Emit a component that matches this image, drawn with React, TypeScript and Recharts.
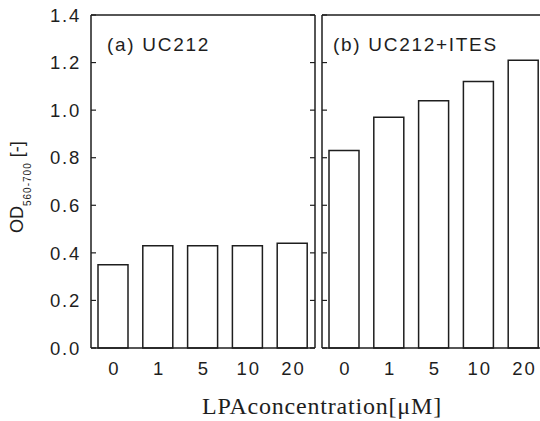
import React from 'react';
import { BarChart, Bar, XAxis, YAxis } from 'recharts';

const concentrations = ['0', '1', '5', '10', '20'];
const odUC212 = [0.35, 0.43, 0.43, 0.43, 0.44];
const odUC212ITES = [0.83, 0.97, 1.04, 1.12, 1.21];
const yTicks = [0, 0.2, 0.4, 0.6, 0.8, 1.0, 1.2, 1.4];
const panelATitle = '(a) UC212';
const panelBTitle = '(b) UC212+ITES';
const xTitle = 'LPAconcentration[μM]';

const dataA = concentrations.map((c, i) => ({ c, v: odUC212[i] }));
const dataB = concentrations.map((c, i) => ({ c, v: odUC212ITES[i] }));

const INK = '#1e1e1e';
const SANS = '"Liberation Sans", Arial, sans-serif';
const SERIF = '"Liberation Serif", "Times New Roman", serif';
const TICK = 5;

const LeftTickLabel = (props: any) => {
  const { x, y, payload } = props;
  return (
    <g>
      <text x={x} y={y} dy="0.36em" textAnchor="end" fontFamily={SANS} fontSize={18.5} letterSpacing={1.8} fill={INK}>
        {Number(payload.value).toFixed(1)}
      </text>
      <line x1={x + 10} x2={x + 10 + TICK} y1={y} y2={y} stroke={INK} strokeWidth={1.2} />
    </g>
  );
};

const InwardLeftTick = (props: any) => {
  const { x, y } = props;
  return <line x1={x} x2={x + TICK} y1={y} y2={y} stroke={INK} strokeWidth={1.2} />;
};

const InwardRightTick = (props: any) => {
  const { x, y } = props;
  return <line x1={x - TICK} x2={x} y1={y} y2={y} stroke={INK} strokeWidth={1.2} />;
};

const XTickLabel = (props: any) => {
  const { x, y, payload } = props;
  return (
    <text x={x + 1} y={y} dy="0.71em" textAnchor="middle" fontFamily={SANS} fontSize={18.5} letterSpacing={2} fill={INK}>
      {payload.value}
    </text>
  );
};

const YLabel = () => (
  <text transform="translate(23, 233) rotate(-90)" fontFamily={SANS} fontSize={18} fill={INK}>
    <tspan>OD</tspan>
    <tspan fontSize={10} dy={8} letterSpacing={1}>560-700</tspan>
    <tspan dy={-8} fontSize={18}> [-]</tspan>
  </text>
);

const axisLine = { stroke: INK, strokeWidth: 1.5 };

export default function App() {
  return (
    <div style={{ position: 'absolute', left: 0, top: 0, width: 540, height: 421, overflow: 'hidden', background: '#fff' }}>
      <div style={{ position: 'absolute', left: 0, top: 0 }}>
        <BarChart width={330} height={421} data={dataA} margin={{ top: 14, right: 14, bottom: 0, left: 0 }}>
          <XAxis dataKey="c" height={73} axisLine={axisLine} tickLine={false} tickSize={0} tickMargin={14} tick={<XTickLabel />} />
          <XAxis dataKey="c" xAxisId="top" orientation="top" height={1} axisLine={axisLine} tickLine={false} tick={false} />
          <YAxis
            width={91}
            domain={[0, 1.4]}
            ticks={yTicks}
            interval={0}
            axisLine={axisLine}
            tickLine={false}
            tickSize={0}
            tickMargin={10}
            tick={<LeftTickLabel />}
            label={{ content: () => <YLabel /> }}
          />
          <YAxis
            yAxisId="r"
            orientation="right"
            width={1}
            domain={[0, 1.4]}
            ticks={yTicks}
            interval={0}
            axisLine={axisLine}
            tickLine={false}
            tickSize={0}
            tickMargin={0}
            tick={<InwardRightTick />}
          />
          <Bar dataKey="v" barSize={30} fill="#fff" stroke={INK} strokeWidth={1.5} isAnimationActive={false} />
          <Bar dataKey="v" yAxisId="r" xAxisId="top" barSize={0} fill="none" stroke="none" isAnimationActive={false} />
        </BarChart>
      </div>
      <div style={{ position: 'absolute', left: 315, top: 0 }}>
        <BarChart width={240} height={421} data={dataB} margin={{ top: 14, right: 9, bottom: 0, left: 0 }}>
          <XAxis dataKey="c" height={73} axisLine={axisLine} tickLine={false} tickSize={0} tickMargin={14} tick={<XTickLabel />} />
          <XAxis dataKey="c" xAxisId="top" orientation="top" height={1} axisLine={axisLine} tickLine={false} tick={false} />
          <YAxis
            width={7}
            domain={[0, 1.4]}
            ticks={yTicks}
            interval={0}
            axisLine={axisLine}
            tickLine={false}
            tickSize={0}
            tickMargin={0}
            tick={<InwardLeftTick />}
          />
          <Bar dataKey="v" barSize={30} fill="#fff" stroke={INK} strokeWidth={1.5} isAnimationActive={false} />
          <Bar dataKey="v" xAxisId="top" barSize={0} fill="none" stroke="none" isAnimationActive={false} />
        </BarChart>
      </div>
      <div style={{ position: 'absolute', left: 107, top: 35, fontFamily: SANS, fontSize: 19, lineHeight: '19px', letterSpacing: 1.7, color: INK, whiteSpace: 'nowrap' }}>
        {panelATitle}
      </div>
      <div style={{ position: 'absolute', left: 333, top: 35, fontFamily: SANS, fontSize: 19, lineHeight: '19px', letterSpacing: 1.7, color: INK, whiteSpace: 'nowrap' }}>
        {panelBTitle}
      </div>
      <div style={{ position: 'absolute', left: 0, width: 644, top: 394, textAlign: 'center', fontFamily: SERIF, fontSize: 24, lineHeight: '24px', letterSpacing: 0.8, color: INK, whiteSpace: 'nowrap' }}>
        {xTitle}
      </div>
    </div>
  );
}
